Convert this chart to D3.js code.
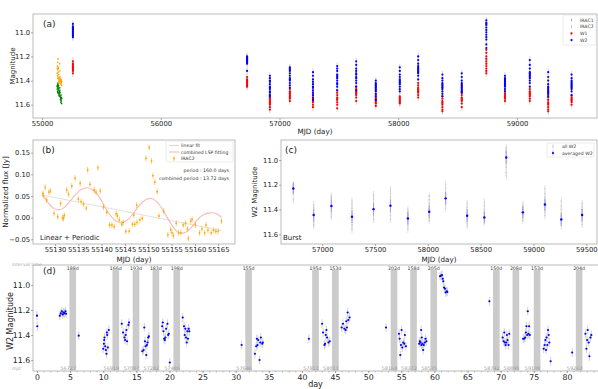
<!DOCTYPE html>
<html>
<meta charset="utf-8" />
<style>
	html,
	body,
	svg {
		margin: 0px;
		padding: 0px;
		background: #fff;
	}
	text {
		font-family: "DejaVu Sans", sans-serif;
	}
</style>
<svg width="598" height="389"></svg>
<script src="https://d3js.org/d3.v7.min.js"></script>
<script>
	// WISE / NEOWISE epochs (MJD) and the single W1/W2 magnitudes of each epoch
	var epochMjd = [55260, 56727, 56919, 57087, 57282, 57486, 57646, 57811, 58013, 58168, 58372, 58535, 58742, 58899, 59108, 59263, 59460];
	var w2Mag = [
		[10.93, 10.95, 10.96, 10.97, 10.98, 10.99, 11.0, 11.01, 11.02, 11.03, 11.04, 10.97],
		[11.2, 11.21, 11.22, 11.22, 11.23, 11.24, 11.24, 11.25, 11.26, 11.32, 11.23, 11.21],
		[11.36, 11.38, 11.4, 11.41, 11.43, 11.45, 11.46, 11.47, 11.49, 11.5, 11.52, 11.53],
		[11.29, 11.3, 11.32, 11.34, 11.36, 11.38, 11.39, 11.4, 11.42, 11.44, 11.46, 11.31],
		[11.33, 11.36, 11.39, 11.41, 11.43, 11.45, 11.46, 11.48, 11.5, 11.52, 11.54, 11.56],
		[11.28, 11.3, 11.32, 11.35, 11.36, 11.38, 11.4, 11.42, 11.43, 11.45, 11.48, 11.37],
		[11.24, 11.27, 11.3, 11.32, 11.34, 11.35, 11.37, 11.38, 11.4, 11.42, 11.45, 11.48],
		[11.4, 11.42, 11.43, 11.44, 11.46, 11.47, 11.48, 11.49, 11.51, 11.53, 11.56, 11.45],
		[11.29, 11.32, 11.35, 11.37, 11.39, 11.41, 11.42, 11.43, 11.45, 11.47, 11.49, 11.4],
		[11.2, 11.23, 11.26, 11.28, 11.29, 11.3, 11.31, 11.32, 11.34, 11.36, 11.39, 11.33],
		[11.35, 11.38, 11.4, 11.42, 11.43, 11.44, 11.46, 11.47, 11.49, 11.51, 11.53, 11.45],
		[11.34, 11.37, 11.4, 11.42, 11.44, 11.45, 11.47, 11.48, 11.49, 11.5, 11.46, 11.43],
		[10.9, 10.92, 10.93, 10.94, 10.96, 10.98, 11.0, 11.02, 11.04, 11.06, 11.1, 11.13],
		[11.36, 11.38, 11.39, 11.4, 11.41, 11.42, 11.43, 11.44, 11.45, 11.47, 11.49, 11.42],
		[11.23, 11.27, 11.3, 11.33, 11.34, 11.35, 11.36, 11.38, 11.4, 11.42, 11.45, 11.37],
		[11.33, 11.37, 11.4, 11.43, 11.45, 11.47, 11.48, 11.5, 11.51, 11.53, 11.49, 11.46],
		[11.35, 11.38, 11.4, 11.42, 11.43, 11.44, 11.45, 11.47, 11.49, 11.52, 11.46, 11.41],
	];
	var w1Mag = [
		[11.24, 11.26, 11.27, 11.28, 11.29, 11.3, 11.31, 11.32, 11.34, 11.29],
		[11.37, 11.39, 11.4, 11.41, 11.42, 11.43, 11.44, 11.45, 11.41],
		[11.52, 11.54, 11.55, 11.56, 11.57, 11.58, 11.59, 11.6, 11.62, 11.64],
		[11.47, 11.49, 11.5, 11.51, 11.52, 11.53, 11.54, 11.55, 11.57],
		[11.5, 11.52, 11.54, 11.55, 11.56, 11.57, 11.58, 11.6, 11.62],
		[11.48, 11.5, 11.52, 11.54, 11.55, 11.56, 11.58, 11.6, 11.63],
		[11.45, 11.47, 11.48, 11.49, 11.5, 11.51, 11.52, 11.54, 11.57],
		[11.52, 11.54, 11.55, 11.56, 11.57, 11.58, 11.59, 11.61],
		[11.53, 11.54, 11.55, 11.56, 11.57, 11.58, 11.59],
		[11.42, 11.44, 11.46, 11.47, 11.48, 11.49, 11.5, 11.52, 11.54],
		[11.53, 11.55, 11.57, 11.58, 11.59, 11.6, 11.62, 11.64, 11.655],
		[11.5, 11.52, 11.54, 11.55, 11.56, 11.57, 11.59, 11.62],
		[11.145, 11.17, 11.2, 11.22, 11.24, 11.26, 11.28, 11.3, 11.32, 11.34],
		[11.49, 11.51, 11.52, 11.53, 11.54, 11.55, 11.57],
		[11.47, 11.49, 11.5, 11.51, 11.52, 11.53, 11.55, 11.57],
		[11.52, 11.54, 11.56, 11.58, 11.59, 11.6, 11.62, 11.64, 11.655],
		[11.525, 11.54, 11.55, 11.56, 11.57, 11.58, 11.6],
	];
	// averaged W2 per NEOWISE epoch (epochMjd[1..])
	var w2Avg = [11.23, 11.445, 11.372, 11.459, 11.397, 11.37, 11.472, 11.418, 11.31, 11.45, 11.464, 10.98, 11.423, 11.36, 11.48, 11.445];

	// Spitzer IRAC magnitudes
	var iracMjd = [55127.4, 55128.2, 55129.0, 55130.6, 55131.6, 55132.5, 55133.6, 55134.3, 55135.4, 55136.7, 55137.5, 55138.8, 55139.7, 55141.1, 55142.2, 55143.4, 55144.6, 55145.9, 55147.1, 55148.2, 55149.5, 55150.7, 55151.9, 55153.3, 55154.8, 55156.0, 55157.5, 55158.6, 55160.1, 55161.5, 55162.8, 55164.0, 55165.0, 55165.7];
	var irac2Mag = [11.3, 11.34, 11.28, 11.36, 11.38, 11.25, 11.31, 11.22, 11.33, 11.37, 11.3, 11.29, 11.35, 11.38, 11.41, 11.39, 11.4, 11.42, 11.38, 11.4, 11.26, 11.32, 11.37, 11.39, 11.42, 11.4, 11.41, 11.43, 11.39, 11.42, 11.4, 11.41, 11.44, 11.41];
	var irac1Mag = [11.45, 11.47, 11.44, 11.49, 11.5, 11.43, 11.46, 11.42, 11.47, 11.48, 11.45, 11.44, 11.47, 11.5, 11.52, 11.51, 11.5, 11.53, 11.49, 11.52, 11.46, 11.48, 11.5, 11.53, 11.56, 11.54, 11.55, 11.58, 11.52, 11.55, 11.57, 11.54, 11.59, 11.55];

	// panel (b): IRAC2 normalized flux [mjd, flux]
	var irac2Flux = [
		[55127.4, 0.056], [55127.5, 0.051], [55127.9, 0.07], [55128.2, 0.041], [55128.7, 0.059], [55129.0, 0.062], [55129.8, 0.01], [55130.6, 0.002],
		[55131.2, 0.033], [55131.6, 0.0], [55131.8, -0.002], [55132.0, 0.005], [55132.5, 0.064], [55132.9, 0.054], [55133.6, 0.073], [55134.3, 0.091],
		[55135.0, 0.043], [55135.4, 0.079], [55135.6, 0.037], [55136.1, 0.031], [55136.7, 0.022], [55137.0, 0.11], [55137.5, 0.077], [55138.4, 0.064],
		[55138.8, 0.059], [55139.2, 0.115], [55139.7, 0.062], [55140.4, 0.025], [55141.1, 0.012], [55141.7, -0.017], [55142.2, -0.017], [55142.7, -0.021],
		[55143.1, 0.009], [55143.4, 0.004], [55143.8, -0.005], [55144.3, -0.015], [55144.6, -0.011], [55145.2, -0.032], [55145.9, -0.031], [55146.6, -0.015],
		[55146.9, 0.006], [55147.1, -0.015], [55147.5, 0.029], [55147.6, -0.011], [55148.2, -0.005], [55148.7, -0.002], [55149.5, 0.137], [55150.2, 0.162],
		[55150.7, 0.131], [55151.0, 0.097], [55151.4, 0.082], [55151.9, 0.06], [55152.3, 0.004], [55153.3, 0.015], [55154.2, -0.04], [55154.8, -0.028],
		[55155.1, -0.035], [55155.4, -0.042], [55156.0, -0.013], [55156.5, -0.035], [55157.0, -0.035], [55157.5, -0.017], [55158.0, -0.013], [55158.4, -0.026],
		[55158.6, -0.048], [55159.1, -0.008], [55159.4, -0.004], [55160.1, -0.017], [55161.0, -0.035], [55161.5, -0.026], [55162.1, -0.035], [55162.4, -0.017],
		[55162.8, -0.029], [55163.5, -0.035], [55164.0, -0.029], [55164.5, -0.032], [55165.0, -0.031], [55165.7, -0.008],
	];
	var linFit = [[55127.4, 0.052], [55165.7, -0.03]];
	var lspFit = [
		[55127.4, 0.052], [55128.5, 0.035], [55129.6, 0.022], [55130.7, 0.018], [55131.8, 0.022], [55133.0, 0.035], [55134.3, 0.052], [55135.6, 0.065],
		[55136.9, 0.069], [55138.1, 0.064], [55139.4, 0.049], [55140.6, 0.027], [55141.8, 0.006], [55143.1, -0.008], [55144.5, -0.011], [55145.8, -0.003],
		[55147.1, 0.014], [55148.3, 0.031], [55149.5, 0.042], [55150.7, 0.044], [55151.9, 0.036], [55153.1, 0.018], [55154.3, -0.004], [55155.5, -0.024],
		[55156.8, -0.036], [55158.0, -0.034], [55159.3, -0.022], [55160.6, -0.004], [55161.9, 0.007], [55163.2, 0.011], [55164.4, 0.01], [55165.7, 0.001],
	];

	// panel (d): W2 vs concatenated day [day, mag]
	var dayW2 = [
		[0, 11.245], [0.05, 11.33], [3.45, 11.245], [3.6, 11.227], [3.75, 11.21], [3.9, 11.235], [4.0, 11.22], [4.15, 11.225], [4.3, 11.21], [4.4, 11.23],
		[6.3, 11.405], [10.0, 11.51], [10.1, 11.47], [10.15, 11.44], [10.2, 11.42], [10.3, 11.49], [10.4, 11.52], [10.5, 11.55], [10.55, 11.38], [10.6, 11.4], [10.7, 11.5], [10.85, 11.36],
		[12.8, 11.31], [13.0, 11.38], [13.2, 11.42], [13.3, 11.44], [13.4, 11.4], [13.5, 11.36], [13.6, 11.45], [13.8, 11.32], [13.9, 11.3],
		[15.9, 11.53], [16.1, 11.52], [16.2, 11.34], [16.3, 11.45], [16.4, 11.49], [16.5, 11.56], [16.6, 11.48], [16.7, 11.46], [16.8, 11.42], [16.9, 11.41],
		[18.9, 11.33], [19.0, 11.3], [19.1, 11.37], [19.2, 11.43], [19.3, 11.44], [19.4, 11.42], [19.5, 11.35], [19.7, 11.31], [19.8, 11.4], [19.9, 11.39], [20.05, 11.62],
		[22.0, 11.26], [22.2, 11.33], [22.3, 11.4], [22.4, 11.35], [22.5, 11.42], [22.6, 11.46], [22.7, 11.37], [22.8, 11.43], [22.9, 11.35], [23.0, 11.37], [30.9, 11.48],
		[32.9, 11.55], [33.1, 11.49], [33.2, 11.43], [33.3, 11.48], [33.4, 11.44], [33.6, 11.6], [33.7, 11.46], [33.8, 11.42], [34.0, 11.47], [34.1, 11.46], [41.05, 11.43],
		[43.05, 11.31], [43.2, 11.38], [43.4, 11.48], [43.5, 11.47], [43.6, 11.4], [43.7, 11.36], [43.8, 11.42], [44.0, 11.46], [44.2, 11.45],
		[46.0, 11.34], [46.2, 11.31], [46.4, 11.35], [46.6, 11.36], [46.7, 11.29], [46.8, 11.34], [46.9, 11.22], [47.0, 11.28], [47.2, 11.26], [52.7, 11.34],
		[54.65, 11.39], [54.75, 11.43], [54.85, 11.56], [54.95, 11.48], [55.05, 11.36], [55.15, 11.5], [55.3, 11.46], [55.45, 11.47], [55.55, 11.4], [55.7, 11.49],
		[57.7, 11.47], [57.8, 11.45], [57.9, 11.46], [58.0, 11.36], [58.05, 11.48], [58.1, 11.42], [58.2, 11.47], [58.3, 11.52], [58.4, 11.48], [58.55, 11.46], [58.65, 11.43], [58.8, 11.45],
		[60.85, 10.93], [61.0, 10.925], [61.15, 10.92], [61.25, 10.95], [61.35, 10.97], [61.45, 11.02], [61.6, 11.03], [61.7, 11.06], [61.85, 11.05], [61.95, 11.055], [68.3, 11.13],
		[70.3, 11.42], [70.45, 11.45], [70.55, 11.38], [70.65, 11.46], [70.75, 11.48], [70.85, 11.46], [70.95, 11.4], [71.05, 11.44], [71.2, 11.48], [71.3, 11.39],
		[73.4, 11.43], [73.55, 11.43], [73.7, 11.42], [73.8, 11.38], [73.9, 11.33], [74.0, 11.4], [74.1, 11.21], [74.2, 11.39], [74.3, 11.33], [74.4, 11.4],
		[76.5, 11.51], [76.65, 11.48], [76.75, 11.44], [76.85, 11.52], [76.95, 11.42], [77.05, 11.48], [77.15, 11.36], [77.25, 11.4], [77.35, 11.46], [77.55, 11.61], [80.8, 11.54],
		[82.8, 11.39], [82.95, 11.51], [83.05, 11.44], [83.15, 11.36], [83.3, 11.46], [83.4, 11.57], [83.55, 11.42], [83.7, 11.4],
	];
	var gapStart = [4.9, 11.4, 14.45, 17.45, 20.6, 31.45, 41.55, 44.55, 53.4, 56.35, 59.4, 68.85, 71.8, 75.0, 81.35];
	var gapInterval = ["188d", "166d", "193d", "183d", "198d", "155d", "195d", "153d", "202d", "158d", "205d", "150d", "208d", "153d", "204d"];
	var gapMjd = ["56727", "56919", "57087", "57282", "57486", "57646", "57811", "58013", "58168", "58372", "58535", "58742", "58899", "59108", "59263"];

	var svg = d3.select("svg");

	function frame(xs, ys) {
		var r = ys.range();
		var g = svg.append("g");
		g.append("rect")
			.attr("x", xs.range()[0])
			.attr("y", Math.min(r[0], r[1]))
			.attr("width", xs.range()[1] - xs.range()[0])
			.attr("height", Math.abs(r[1] - r[0]))
			.attr("fill", "#fff")
			.attr("stroke", "#b4b4b4")
			.attr("stroke-width", 0.9);
		return g;
	}

	function axes(g, xs, ys, xt, yt, xf, yf, fs) {
		var bot = Math.max.apply(null, ys.range());
		var ax = g
			.append("g")
			.attr("transform", "translate(0," + bot + ")")
			.call(d3.axisBottom(xs).tickValues(xt).tickFormat(xf).tickSize(2).tickPadding(1.5));
		var ay = g
			.append("g")
			.attr("transform", "translate(" + xs.range()[0] + ",0)")
			.call(d3.axisLeft(ys).tickValues(yt).tickFormat(yf).tickSize(2).tickPadding(0.8));
		[ax, ay].forEach(function (a) {
			a.select(".domain").remove();
			a.selectAll("text").attr("font-size", fs).attr("font-family", "DejaVu Sans").attr("fill", "#222");
			a.selectAll("line").attr("stroke", "#888").attr("stroke-width", 0.7);
		});
	}

	function label(x, y, s, size, opt) {
		opt = opt || {};
		var t = svg
			.append("text")
			.attr("x", x)
			.attr("y", y)
			.attr("font-size", size)
			.attr("fill", opt.fill || "#222")
			.attr("text-anchor", opt.anchor || "start")
			.text(s);
		if (opt.rot) t.attr("transform", "rotate(-90," + x + "," + y + ")");
		return t;
	}

	function errs(g, pts, xs, ys, e, col, w) {
		g.append("g")
			.selectAll("line")
			.data(pts)
			.join("line")
			.attr("x1", (d) => xs(d[0]))
			.attr("x2", (d) => xs(d[0]))
			.attr("y1", (d) => ys(d[1] - e))
			.attr("y2", (d) => ys(d[1] + e))
			.attr("stroke", col)
			.attr("stroke-width", w);
	}

	function dots(g, pts, xs, ys, r, col) {
		g.append("g")
			.selectAll("circle")
			.data(pts)
			.join("circle")
			.attr("cx", (d) => xs(d[0]))
			.attr("cy", (d) => ys(d[1]))
			.attr("r", r)
			.attr("fill", col);
	}

	// ---------- (a)
	var xa = d3.scaleLinear().domain([54924, 59674]).range([33, 597]);
	var ya = d3.scaleLinear().domain([10.848, 11.71]).range([14, 118]);
	var ga = frame(xa, ya);
	axes(ga, xa, ya, [55000, 56000, 57000, 58000, 59000], [11.0, 11.2, 11.4, 11.6], d3.format("d"), d3.format(".1f"), 6.8);

	var w2Pts = [],
		w1Pts = [];
	epochMjd.forEach(function (m, i) {
		w2Mag[i].forEach((v) => w2Pts.push([m, v]));
		w1Mag[i].forEach((v) => w1Pts.push([m, v]));
	});
	var irac1Pts = iracMjd.map((m, i) => [m, irac1Mag[i]]);
	var irac2Pts = iracMjd.map((m, i) => [m, irac2Mag[i]]);

	errs(ga, irac1Pts, xa, ya, 0.01, "#7fbf7f", 0.6);
	dots(ga, irac1Pts, xa, ya, 0.8, "green");
	errs(ga, irac2Pts, xa, ya, 0.01, "#f5cf8a", 0.6);
	dots(ga, irac2Pts, xa, ya, 0.8, "orange");
	errs(ga, w1Pts.concat(w2Pts), xa, ya, 0.03, "#cfcfcf", 0.9);
	dots(ga, w1Pts, xa, ya, 1.1, "red");
	dots(ga, w2Pts, xa, ya, 1.1, "blue");

	label(43, 27, "(a)", 9);
	label(315, 134, "MJD (day)", 7.2, { anchor: "middle" });
	label(14.5, 66, "Magnitude", 7, { anchor: "middle", rot: true });

	var legA = svg.append("g");
	legA.append("rect").attr("x", 563).attr("y", 15).attr("width", 33).attr("height", 30).attr("rx", 1.5).attr("fill", "#fff").attr("stroke", "#ddd").attr("stroke-width", 0.6);
	[
		["IRAC1", "green", 0.5],
		["IRAC2", "orange", 0.5],
		["W1", "red", 1.1],
		["W2", "blue", 1.1],
	].forEach(function (e, i) {
		var y = 20 + i * 6.7;
		legA.append("line").attr("x1", 571.5).attr("x2", 571.5).attr("y1", y - 2).attr("y2", y + 2).attr("stroke", "#c8c8c8").attr("stroke-width", 0.6);
		legA.append("circle").attr("cx", 571.5).attr("cy", y).attr("r", e[2]).attr("fill", e[1]);
		legA.append("text").attr("x", 580).attr("y", y + 1.6).attr("font-size", 4.6).attr("fill", "#333").text(e[0]);
	});

	// ---------- (b)
	var xb = d3.scaleLinear().domain([55125.28, 55168.6]).range([33, 235]);
	var yb = d3.scaleLinear().domain([-0.0609, 0.1793]).range([244, 140]);
	var gb = frame(xb, yb);
	axes(gb, xb, yb, d3.range(55130, 55166, 5), [-0.05, 0.0, 0.05, 0.1, 0.15], d3.format("d"), d3.format(".2f"), 6.8);

	var line = d3
		.line()
		.x((d) => xb(d[0]))
		.y((d) => yb(d[1]));
	gb.append("path").attr("d", line(linFit)).attr("fill", "none").attr("stroke", "#e2e2e2").attr("stroke-width", 1);
	gb.append("path").attr("d", line.curve(d3.curveCatmullRom)(lspFit)).attr("fill", "none").attr("stroke", "#ffb6b6").attr("stroke-width", 1.1);
	errs(gb, irac2Flux, xb, yb, 0.007, "#ffb733", 0.7);
	dots(gb, irac2Flux, xb, yb, 0.9, "orange");

	var legB = svg.append("g");
	legB.append("rect").attr("x", 166).attr("y", 141).attr("width", 67).attr("height", 21).attr("rx", 1.5).attr("fill", "#fff").attr("stroke", "#ddd").attr("stroke-width", 0.6);
	legB.append("line").attr("x1", 169).attr("x2", 179).attr("y1", 145.5).attr("y2", 145.5).attr("stroke", "#d8d8d8").attr("stroke-width", 1);
	legB.append("line").attr("x1", 169).attr("x2", 179).attr("y1", 152).attr("y2", 152).attr("stroke", "#ffb6b6").attr("stroke-width", 1.1);
	legB.append("line").attr("x1", 174).attr("x2", 174).attr("y1", 156).attr("y2", 161).attr("stroke", "#ffb733").attr("stroke-width", 0.7);
	legB.append("circle").attr("cx", 174).attr("cy", 158.5).attr("r", 0.9).attr("fill", "orange");
	[
		["linear fit", 147.2],
		["combined LSP fitting", 153.7],
		["IRAC2", 160.2],
	].forEach(function (e) {
		legB.append("text").attr("x", 181).attr("y", e[1]).attr("font-size", 4.6).attr("fill", "#333").text(e[0]);
	});
	label(229, 171.5, "period : 160.0 days", 4.7, { anchor: "end", fill: "#333" });
	label(229, 179.5, "combined period : 13.72 days", 4.7, { anchor: "end", fill: "#333" });
	label(42, 152.5, "(b)", 9);
	label(40, 240, "Linear + Periodic", 7);
	label(134, 261.5, "MJD (day)", 7.2, { anchor: "middle" });
	label(8, 192, "Normalized flux [Jy]", 7.3, { anchor: "middle", rot: true });

	// ---------- (c)
	var xc = d3.scaleLinear().domain([56610, 59601]).range([281, 597]);
	var yc = d3.scaleLinear().domain([10.838, 11.679]).range([140, 244]);
	var gc = frame(xc, yc);
	axes(gc, xc, yc, d3.range(57000, 59501, 500), [11.0, 11.2, 11.4, 11.6], d3.format("d"), d3.format(".1f"), 6.8);

	var allW2 = w2Pts.filter((d) => d[0] > xc.domain()[0]);
	var avgPts = w2Avg.map((v, i) => [epochMjd[i + 1], v]);
	errs(gc, allW2, xc, yc, 0.03, "#dcdcdc", 0.9);
	dots(gc, allW2, xc, yc, 0.6, "#bdbdbd");
	errs(gc, avgPts, xc, yc, 0.05, "#8c8cff", 0.7);
	dots(gc, avgPts, xc, yc, 1.2, "blue");

	var legC = svg.append("g");
	legC.append("rect").attr("x", 547).attr("y", 143).attr("width", 47).attr("height", 14).attr("rx", 1.5).attr("fill", "#fff").attr("stroke", "#ddd").attr("stroke-width", 0.6);
	legC.append("line").attr("x1", 553).attr("x2", 553).attr("y1", 144).attr("y2", 149).attr("stroke", "#d0d0d0").attr("stroke-width", 0.7);
	legC.append("circle").attr("cx", 553).attr("cy", 146.5).attr("r", 0.6).attr("fill", "#bbb");
	legC.append("line").attr("x1", 553).attr("x2", 553).attr("y1", 150.5).attr("y2", 155.5).attr("stroke", "#8c8cff").attr("stroke-width", 0.7);
	legC.append("circle").attr("cx", 553).attr("cy", 153).attr("r", 1.1).attr("fill", "blue");
	legC.append("text").attr("x", 562).attr("y", 148.2).attr("font-size", 4.6).attr("fill", "#333").text("all W2");
	legC.append("text").attr("x", 562).attr("y", 154.7).attr("font-size", 4.6).attr("fill", "#333").text("averaged W2");
	label(285, 152.5, "(c)", 9);
	label(283, 240, "Burst", 7);
	label(439, 261.5, "MJD (day)", 7.2, { anchor: "middle" });
	label(257, 192, "W2 Magnitude", 7, { anchor: "middle", rot: true });

	// ---------- (d)
	var xd = d3.scaleLinear().domain([-0.6, 84.7]).range([33, 598]);
	var yd = d3.scaleLinear().domain([10.84, 11.688]).range([265, 371]);
	var gd = svg.append("g");
	gd.append("rect").attr("x", 33).attr("y", 265).attr("width", 570).attr("height", 106).attr("fill", "#fff").attr("stroke", "#b4b4b4").attr("stroke-width", 0.9);
	gd.append("g")
		.selectAll("rect")
		.data(gapStart)
		.join("rect")
		.attr("x", (d) => xd(d))
		.attr("width", (d) => xd(d + 1) - xd(d))
		.attr("y", 270)
		.attr("height", 101)
		.attr("fill", "#cbcbcb");
	axes(gd, xd, yd, d3.range(0, 81, 5), [11.0, 11.2, 11.4, 11.6], d3.format("d"), d3.format(".1f"), 7.8);
	gd.append("g")
		.attr("transform", "translate(0,371)")
		.call(d3.axisBottom(xd).tickValues(d3.range(0, 85, 1)).tickFormat("").tickSize(1.5))
		.call((a) => a.select(".domain").remove())
		.selectAll("line")
		.attr("stroke", "#888")
		.attr("stroke-width", 0.5);

	errs(gd, dayW2, xd, yd, 0.035, "#cccccc", 0.9);
	dots(gd, dayW2, xd, yd, 1.1, "blue");

	gapStart.forEach(function (s, i) {
		label(xd(s + 0.5), 269.5, gapInterval[i], 4.7, { anchor: "middle", fill: "#333" });
		label(xd(s + 1), 370, gapMjd[i], 4.9, { anchor: "end", fill: "#999" });
	});
	label(12, 265.5, "interval time", 4.7, { fill: "#aaa" });
	label(12, 370, "mjd", 4.7, { fill: "#aaa" });
	label(43, 274, "(d)", 9);
	label(315.5, 387, "day", 8, { anchor: "middle" });
	label(12.5, 321, "W2 Magnitude", 8, { anchor: "middle", rot: true });
</script>
</html>
